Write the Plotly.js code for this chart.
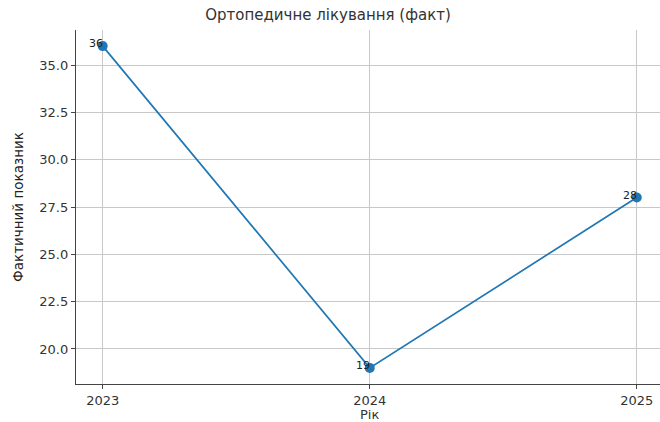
<!DOCTYPE html>
<html>
<head>
<meta charset="utf-8">
<script src="https://cdn.plot.ly/plotly-3.0.1.min.js"></script>
<style>html,body{margin:0;padding:0;background:#fff;}#chart{width:660px;height:422px;}</style>
</head>
<body>
<div id="chart"></div>
<script>
const years = [2023, 2024, 2025];
const values = [36, 19, 28];
const yTicks = [20.0, 22.5, 25.0, 27.5, 30.0, 32.5, 35.0];
const xTitle = 'Рік';

const font = 'DejaVu Sans, sans-serif';
const trace = {
  x: years, y: values, type: 'scatter', mode: 'lines+markers',
  line: {color: '#1f77b4', width: 1.7},
  marker: {color: '#1f77b4', size: 10},
  hoverinfo: 'skip', showlegend: false
};
const annotations = years.map((yr, i) => ({
  x: yr, y: values[i], text: String(values[i]), showarrow: false,
  xanchor: 'right', yanchor: 'bottom', xshift: 2, yshift: -6,
  font: {family: font, size: 11, color: '#222'}
}));
annotations.push({
  xref: 'x', yref: 'paper', x: years[1], y: 0, text: xTitle, showarrow: false,
  xanchor: 'center', yanchor: 'top', yshift: -21,
  font: {family: font, size: 13, color: '#333'}
});
const layout = {
  width: 660, height: 422,
  margin: {l: 76, r: 0, t: 30, b: 38},
  paper_bgcolor: '#fff', plot_bgcolor: '#fff',
  title: {text: 'Ортопедичне лікування (факт)', font: {family: font, size: 15, color: '#333'}, x: 0.497, xanchor: 'center', y: 0.978, yanchor: 'top'},
  xaxis: {
    range: [2022.9, 2025.087], tickmode: 'array', tickvals: years, ticktext: years.map(String),
    showgrid: true, gridcolor: '#c8c8c8', gridwidth: 1, zeroline: false,
    showline: true, linecolor: '#444', linewidth: 1.2, ticks: 'outside', ticklen: 4, tickcolor: '#444',
    tickfont: {family: font, size: 13, color: '#333'}
  },
  yaxis: {
    range: [18.15, 36.85], tickmode: 'array', tickvals: yTicks, ticktext: yTicks.map(v => v.toFixed(1)),
    showgrid: true, gridcolor: '#c8c8c8', gridwidth: 1, zeroline: false,
    showline: true, linecolor: '#444', linewidth: 1.2, ticks: 'outside', ticklen: 4, tickcolor: '#444',
    tickfont: {family: font, size: 13, color: '#333'},
    title: {text: 'Фактичний показник', font: {family: font, size: 13.5, color: '#222'}, standoff: 12}
  },
  annotations: annotations
};
Plotly.newPlot('chart', [trace], layout, {displayModeBar: false, staticPlot: true});
</script>
</body>
</html>
